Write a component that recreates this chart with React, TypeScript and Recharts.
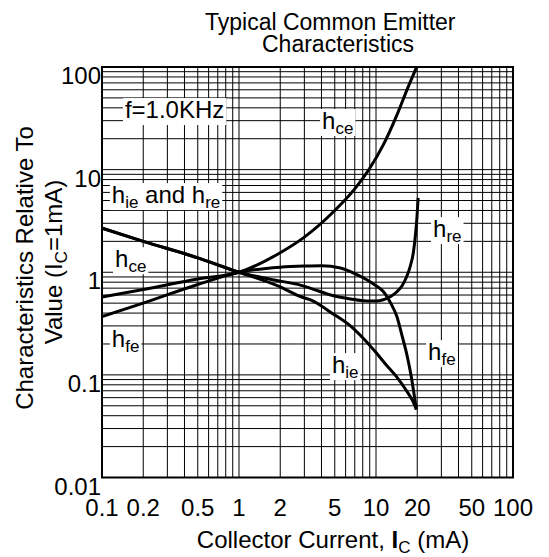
import React from 'react';
import { LineChart, Line, XAxis, YAxis, CartesianGrid, ReferenceArea, ReferenceDot } from 'recharts';

const FONT = '"Liberation Sans", Arial, Helvetica, sans-serif';

// grid / tick values
const xGridTicks = [0.1, 0.2, 0.3, 0.4, 0.5, 0.6, 0.7, 0.8, 0.9, 1, 2, 3, 4, 5, 6, 7, 8, 9, 10, 20, 30, 40, 50, 60, 70, 80, 90, 100];
const yGridTicks = [
  0.01, 0.02, 0.03, 0.04, 0.05, 0.06, 0.07, 0.08, 0.09,
  0.1, 0.2, 0.3, 0.4, 0.5, 0.6, 0.7, 0.8, 0.9,
  1, 2, 3, 4, 5, 6, 7, 8, 9,
  10, 20, 30, 40, 50, 60, 70, 80, 90, 100,
];
const xTickLabels = [0.1, 0.2, 0.5, 1, 2, 5, 10, 20, 50, 100];
const yTickLabels = [0.01, 0.1, 1, 10, 100];

// series (collector current mA -> relative value)
const hceCurrent = [0.1, 0.2, 0.5, 1, 2, 3, 5, 7, 9, 11.3, 14.2, 17, 19.8];
const hceValue = [0.575, 0.68, 0.86, 1.0, 1.55, 2.2, 4.0, 6.5, 10.3, 17.4, 34, 62, 100];

const hfeCurrent = [0.1, 0.2, 0.5, 1, 2, 3, 4, 5.5, 7, 8.5, 10, 11.3, 12.8, 14.2, 15.5, 16.7, 18, 19.7];
const hfeValue = [0.37, 0.5, 0.76, 1.0, 1.12, 1.15, 1.16, 1.1, 0.97, 0.85, 0.74, 0.65, 0.5, 0.37, 0.24, 0.163, 0.1, 0.046];

const hieCurrent = [0.1, 0.2, 0.5, 1, 2, 2.8, 3.3, 4.9, 6.5, 8, 10, 12, 14.2, 16.7, 18.5, 19.7];
const hieValue = [2.69, 2.0, 1.38, 1.0, 0.72, 0.58, 0.54, 0.39, 0.3, 0.23, 0.165, 0.123, 0.095, 0.07, 0.056, 0.046];

const hreCurrent = [0.1, 0.2, 0.5, 1, 2, 2.8, 3.3, 4.9, 6.5, 8.5, 10, 11.3, 12.8, 14.2, 15.5, 16.7, 17.8, 18.7, 19.4, 19.9, 20.3];
const hreValue = [2.69, 2.0, 1.38, 1.0, 0.82, 0.75, 0.7, 0.59, 0.55, 0.525, 0.525, 0.54, 0.58, 0.645, 0.74, 0.9, 1.15, 1.53, 2.3, 3.4, 5.3];

// annotations: [text, isSubscript]
const notes = [
  { x: 0.147, y: 31.8, parts: [['f=1.0KHz', false]] },
  { x: 0.118, y: 4.72, parts: [['h', false], ['ie', true], [' and h', false], ['re', true]] },
  { x: 4.04, y: 24.9, parts: [['h', false], ['ce', true]] },
  { x: 26.1, y: 2.2, parts: [['h', false], ['re', true]] },
  { x: 0.1245, y: 1.12, parts: [['h', false], ['ce', true]] },
  { x: 0.118, y: 0.187, parts: [['h', false], ['fe', true]] },
  { x: 4.77, y: 0.104, parts: [['h', false], ['ie', true]] },
  { x: 24.0, y: 0.139, parts: [['h', false], ['fe', true]] },
];

const zip = (xs: number[], ys: number[]) => xs.map((x, i) => ({ x, y: ys[i] }));

const MAIN = 24;
const SUB = 17;
const W: Record<string, number> = {
  h: 0.556, i: 0.222, e: 0.556, c: 0.5, f: 0.278, r: 0.333, a: 0.556, n: 0.556, d: 0.556,
  ' ': 0.278, '=': 0.584, '1': 0.556, '.': 0.278, '0': 0.556, K: 0.667, H: 0.722, z: 0.5,
};
const textWidth = (parts: any[]) =>
  parts.reduce((s, [t, sub]) => s + [...t].reduce((a: number, ch: string) => a + (W[ch] ?? 0.55), 0) * (sub ? SUB : MAIN), 0);

const NoteShape = (props: any) => {
  const { cx, cy, note } = props;
  const w = textWidth(note.parts);
  const spans: any[] = [];
  let prevSub = false;
  note.parts.forEach(([t, sub]: [string, boolean], i: number) => {
    let dy = 0;
    if (sub && !prevSub) dy = 5;
    if (!sub && prevSub) dy = -5;
    spans.push(
      <tspan key={i} dy={dy} fontSize={sub ? SUB : MAIN} style={{ whiteSpace: 'pre' }}>
        {t}
      </tspan>
    );
    prevSub = sub;
  });
  return (
    <g>
      <rect x={cx - 2} y={cy - 20} width={w + 4} height={27} fill="#fff" />
      <text x={cx} y={cy} fontFamily={FONT} fill="#000" xmlSpace="preserve">
        {spans}
      </text>
    </g>
  );
};

const fmt = (v: number) => String(v);

const XTick = (props: any) => {
  const { x, y, payload } = props;
  if (!xTickLabels.includes(payload.value)) return <g />;
  return (
    <text x={x} y={y + 38} textAnchor="middle" fontSize={24} fontFamily={FONT} fill="#000">
      {fmt(payload.value)}
    </text>
  );
};

const YTick = (props: any) => {
  const { x, y, payload } = props;
  if (!yTickLabels.includes(payload.value)) return <g />;
  return (
    <text x={x - 1} y={y + 17} textAnchor="end" fontSize={24} fontFamily={FONT} fill="#000">
      {fmt(payload.value)}
    </text>
  );
};

const series = [
  { name: 'hce', data: zip(hceCurrent, hceValue) },
  { name: 'hfe', data: zip(hfeCurrent, hfeValue) },
  { name: 'hie', data: zip(hieCurrent, hieValue) },
  { name: 'hre', data: zip(hreCurrent, hreValue) },
];

export default function App() {
  return (
    <div style={{ position: 'absolute', left: 0, top: 0, width: 549, height: 557, background: '#fff' }}>
      <LineChart width={549} height={557} margin={{ top: 67, right: 36, bottom: 49.5, left: 42 }}>
        <CartesianGrid stroke="#000" strokeWidth={1} />
        <XAxis
          dataKey="x"
          type="number"
          scale="log"
          domain={[0.1, 100]}
          ticks={xGridTicks}
          interval={0}
          tick={<XTick />}
          tickLine={false}
          axisLine={false}
          tickSize={0}
          tickMargin={0}
          height={30}
          allowDataOverflow
        />
        <YAxis
          type="number"
          scale="log"
          domain={[0.01, 100]}
          ticks={yGridTicks}
          interval={0}
          tick={<YTick />}
          tickLine={false}
          axisLine={false}
          tickSize={0}
          tickMargin={0}
          width={60}
          allowDataOverflow
        />
        <ReferenceArea x1={0.1} x2={100} y1={0.01} y2={100} fill="none" stroke="#000" strokeWidth={2} ifOverflow="visible" />
        {notes.map((n, i) => (
          <ReferenceDot key={i} x={n.x} y={n.y} r={0} ifOverflow="visible" shape={(p: any) => <NoteShape {...p} note={n} />} />
        ))}
        {series.map((s) => (
          <Line
            key={s.name}
            name={s.name}
            data={s.data}
            dataKey="y"
            type="monotone"
            stroke="#000"
            strokeWidth={3}
            dot={false}
            activeDot={false}
            isAnimationActive={false}
          />
        ))}
      </LineChart>
      <svg width={549} height={557} style={{ position: 'absolute', left: 0, top: 0, pointerEvents: 'none' }}>
        <g fontFamily={FONT} fill="#000">
          <text x={205} y={30} fontSize={23}>Typical Common Emitter</text>
          <text x={262} y={52} fontSize={23}>Characteristics</text>
          <text transform="translate(33,268) rotate(-90)" textAnchor="middle" fontSize={24}>
            Characteristics Relative To
          </text>
          <text transform="translate(62,262) rotate(-90)" textAnchor="middle" fontSize={24}>
            Value (I<tspan dy={5} fontSize={17}>C</tspan><tspan dy={-5}>=1mA)</tspan>
          </text>
          <text x={333} y={548} textAnchor="middle" fontSize={24}>
            Collector Current, <tspan fontWeight="bold">I</tspan><tspan dy={5} fontSize={17}>C</tspan><tspan dy={-5}> (mA)</tspan>
          </text>
        </g>
      </svg>
    </div>
  );
}
